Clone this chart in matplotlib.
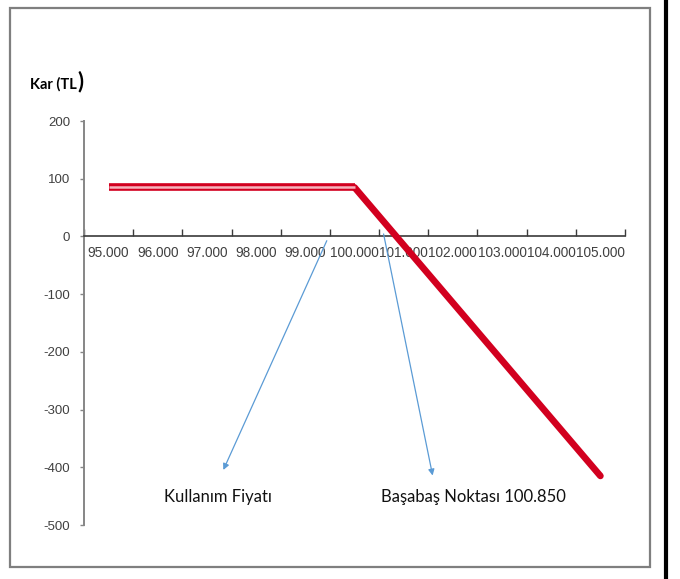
import matplotlib
matplotlib.use("Agg")
import matplotlib.pyplot as plt
from matplotlib.patches import Rectangle
from matplotlib.lines import Line2D

categories = ["95.000", "96.000", "97.000", "98.000", "99.000", "100.000",
              "101.000", "102.000", "103.000", "104.000", "105.000"]
profit = [85, 85, 85, 85, 85, 85, -15, -115, -215, -315, -415]
y_ticks = [200, 100, 0, -100, -200, -300, -400, -500]
strike_index = 5          # 100.000
label_strike = "Kullanım Fiyatı"
label_breakeven = "Başabaş Noktası 100.850"
y_title = "Kar (TL"

W, H = 680, 579
fig = plt.figure(figsize=(W / 100, H / 100), dpi=100)
fig.patch.set_facecolor("white")

# outer chart frame and page edge line
fig.add_artist(Rectangle((10 / W, 1 - 567 / H), 640 / W, 559 / H,
                         transform=fig.transFigure, fill=False,
                         edgecolor="#7f7f7f", lw=1.6))
fig.add_artist(Line2D([666 / W, 666 / W], [0, 1], transform=fig.transFigure,
                      color="black", lw=3))

ax = fig.add_axes([84 / W, 1 - 525 / H, (625 - 84) / W, (525 - 121) / H])
tickfont = ["Liberation Sans", "DejaVu Sans"]

x = list(range(len(categories)))
red = "#d2001f"
flat_x = x[:strike_index + 1]
flat_y = profit[:strike_index + 1]
ax.plot(flat_x, flat_y, color=red, lw=5.5, solid_capstyle="butt", zorder=3)
ax.plot(flat_x, flat_y, color="#f7b3bd", lw=1.8, solid_capstyle="butt", zorder=4)
ax.plot(x[strike_index:], profit[strike_index:], color=red, lw=4.8,
        solid_capstyle="round", zorder=3)

ax.set_xlim(-0.5, len(categories) - 0.5)
ax.set_ylim(-500, 200)

for s in ["top", "right"]:
    ax.spines[s].set_visible(False)
ax.spines["left"].set_color("#868686")
ax.spines["left"].set_linewidth(1.4)
ax.spines["bottom"].set_position(("data", 0))
ax.spines["bottom"].set_color("#3a3a3a")
ax.spines["bottom"].set_linewidth(1.2)

ax.set_yticks(y_ticks)
ax.set_yticklabels([str(v) for v in y_ticks], family=tickfont, fontsize=9.5,
                   color="#404040")
ax.tick_params(axis="y", direction="out", length=3, width=1, color="#868686",
               pad=7)

ax.set_xticks([i - 0.5 for i in range(len(categories) + 1)])
ax.set_xticklabels([])
ax.tick_params(axis="x", which="major", direction="in", length=5, width=1,
               color="#3a3a3a")
ax.set_xticks(x, minor=True)
ax.set_xticklabels(categories, minor=True, family=tickfont, fontsize=9.8,
                   color="#404040")
ax.tick_params(axis="x", which="minor", length=0, pad=7)

# title of the y axis
t = fig.text(30 / W, 1 - 84 / H, y_title, family=["Lato", "DejaVu Sans"],
             fontweight="bold", fontsize=10.5, va="center", ha="left")
fig.canvas.draw()
bb = t.get_window_extent()
fig.text(bb.x1 / W + 1 / W, 1 - 82 / H, ")", family=["Lato", "DejaVu Sans"],
         fontweight="bold", fontsize=16, va="center", ha="left")

arrow_col = "#5b9bd5"
ax.annotate("", xy=(2.31, -409), xytext=(4.46, -3),
            arrowprops=dict(arrowstyle="-|>", color=arrow_col, lw=0.9,
                            mutation_scale=9),
            zorder=5)
ax.annotate("", xy=(6.6, -419), xytext=(5.58, 9),
            arrowprops=dict(arrowstyle="-|>", color=arrow_col, lw=0.9,
                            mutation_scale=9),
            zorder=5)

ax.text(2.23, -452, label_strike, family=["Lato", "DejaVu Sans"],
        fontsize=12, ha="center", va="center", color="#111111")
ax.text(7.41, -452, label_breakeven, family=["Lato", "DejaVu Sans"],
        fontsize=12, ha="center", va="center", color="#111111")

fig.savefig("out.png", dpi=100, facecolor="white")
